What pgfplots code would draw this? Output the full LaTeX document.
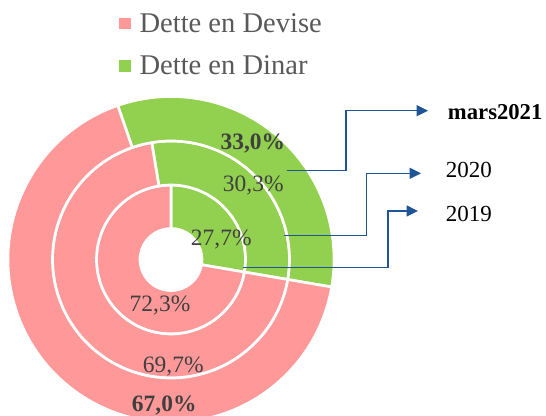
\documentclass[border=0pt]{standalone}
\usepackage{pgfplots}
\pgfplotsset{compat=1.18}
\usepackage{pgfplotstable}
\usepackage{fontspec}
\setmainfont{Liberation Serif}
\usetikzlibrary{arrows.meta}
\definecolor{devise}{HTML}{FF9999}
\definecolor{dinar}{HTML}{92D050}
\definecolor{arrowblue}{HTML}{1F5596}
\definecolor{lbl}{HTML}{404040}
\definecolor{leg}{HTML}{595959}

% ring 1 = inner (2019), ring 3 = outer (mars 2021); shares in %
\pgfplotstableread{
ring year dinar devise rin rout
1 2019 27.7 72.3 23.25 55.875
2 2020 30.3 69.7 55.875 88.875
3 mars2021 33.0 67.0 88.875 122.25
}\debttable

\newcommand\ringseg[5]{% colour, a1, a2, r_in, r_out
  \fill[#1, draw=white, line width=2pt]
    ([shift={(#2:#5pt)}]axis cs:171,156.5) arc[start angle=#2, end angle=#3, radius=#5pt]
    -- ([shift={(#3:#4pt)}]axis cs:171,156.5) arc[start angle=#3, end angle=#2, radius=#4pt] -- cycle;}

\begin{document}
\begin{tikzpicture}
\pgfplotstablegetelem{0}{dinar}\of\debttable \let\dinA\pgfplotsretval
\pgfplotstablegetelem{1}{dinar}\of\debttable \let\dinB\pgfplotsretval
\pgfplotstablegetelem{2}{dinar}\of\debttable \let\dinC\pgfplotsretval
\pgfplotstablegetelem{0}{devise}\of\debttable \let\devA\pgfplotsretval
\pgfplotstablegetelem{1}{devise}\of\debttable \let\devB\pgfplotsretval
\pgfplotstablegetelem{2}{devise}\of\debttable \let\devC\pgfplotsretval
\pgfplotstablegetelem{0}{rin}\of\debttable \let\rinA\pgfplotsretval
\pgfplotstablegetelem{1}{rin}\of\debttable \let\rinB\pgfplotsretval
\pgfplotstablegetelem{2}{rin}\of\debttable \let\rinC\pgfplotsretval
\pgfplotstablegetelem{0}{rout}\of\debttable \let\routA\pgfplotsretval
\pgfplotstablegetelem{1}{rout}\of\debttable \let\routB\pgfplotsretval
\pgfplotstablegetelem{2}{rout}\of\debttable \let\routC\pgfplotsretval
\pgfmathsetmacro\bnd{90-\dinA*3.6}
\pgfmathsetmacro\gA{\bnd+\dinA*3.6}
\pgfmathsetmacro\gB{\bnd+\dinB*3.6}
\pgfmathsetmacro\gC{\bnd+\dinC*3.6}
\pgfmathsetmacro\pA{\gA+\devA*3.6}
\pgfmathsetmacro\pB{\gB+\devB*3.6}
\pgfmathsetmacro\pC{\gC+\devC*3.6}
\begin{axis}[
  x=0.75pt, y=0.75pt,
  xmin=0, xmax=546, ymin=0, ymax=416,
  hide axis, clip=false,
]
% donut rings
\ringseg{dinar}{\bnd}{\gA}{\rinA}{\routA}
\ringseg{devise}{\gA}{\pA}{\rinA}{\routA}
\ringseg{dinar}{\bnd}{\gB}{\rinB}{\routB}
\ringseg{devise}{\gB}{\pB}{\rinB}{\routB}
\ringseg{dinar}{\bnd}{\gC}{\rinC}{\routC}
\ringseg{devise}{\gC}{\pC}{\rinC}{\routC}

% data labels
\begin{scope}[every node/.style={inner sep=0pt, anchor=base, text=lbl, font=\fontsize{17.6}{20}\selectfont}]
\node[font=\fontsize{17.6}{20}\selectfont\bfseries] at (axis cs:252.8,266) {33,0\%};
\node at (axis cs:253.3,224) {30,3\%};
\node at (axis cs:221.3,170) {27,7\%};
\node at (axis cs:160,104.3) {72,3\%};
\node at (axis cs:173.3,43.3) {69,7\%};
\node[font=\fontsize{17.6}{20}\selectfont\bfseries] at (axis cs:164.2,4.5) {67,0\%};
\end{scope}

% callout arrows
\begin{scope}[arrowblue, line width=1.1pt, -{Triangle[length=8.5pt,width=8.2pt]}]
\draw (axis cs:286.7,245.3) -- (axis cs:346,245.3) -- (axis cs:346,305.3) -- (axis cs:428,305.3);
\draw (axis cs:284.3,180.3) -- (axis cs:366.7,180.3) -- (axis cs:366.7,242.7) -- (axis cs:421,242.7);
\draw (axis cs:243,148.3) -- (axis cs:388,148.3) -- (axis cs:388,205) -- (axis cs:418,205);
\end{scope}
\begin{scope}[every node/.style={inner sep=0pt, anchor=base west, text=black, font=\fontsize{17.25}{20}\selectfont}]
\node[font=\fontsize{17}{20}\selectfont\bfseries] at (axis cs:447.7,296.7) {mars2021};
\node at (axis cs:445.7,238.7) {2020};
\node at (axis cs:445.7,194.3) {2019};
\end{scope}

% legend
\fill[devise] (axis cs:119.3,386.7) rectangle (axis cs:130.7,397.7);
\fill[dinar] (axis cs:119.3,344.3) rectangle (axis cs:130.7,356);
\begin{scope}[every node/.style={inner sep=0pt, anchor=base west, text=leg, font=\fontsize{21.4}{24}\selectfont}]
\node at (axis cs:139.3,383.7) {Dette en Devise};
\node at (axis cs:139.3,341) {Dette en Dinar};
\end{scope}
\end{axis}
\pgfresetboundingbox
\useasboundingbox (0,0) rectangle (409.5pt,312pt);
\end{tikzpicture}
\end{document}
